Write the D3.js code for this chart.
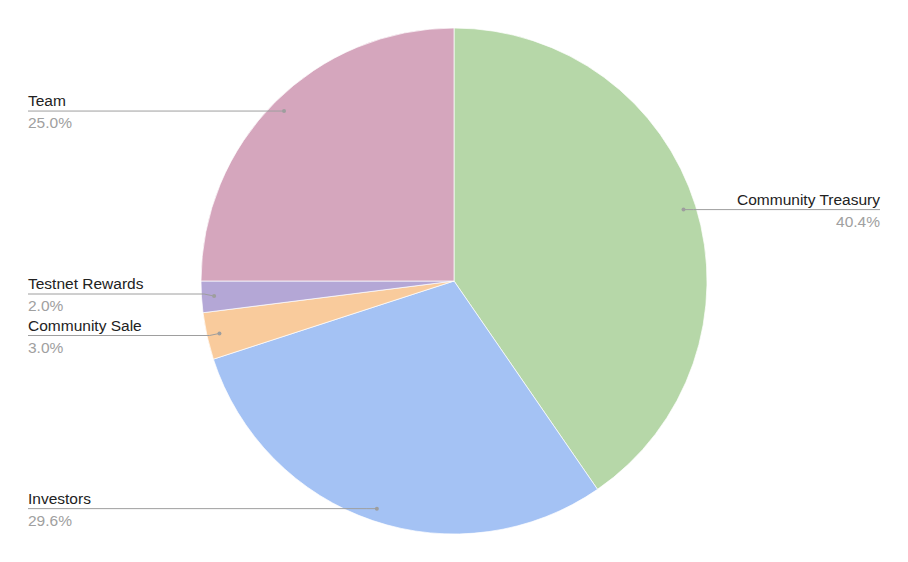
<!DOCTYPE html>
<html><head><meta charset="utf-8">
<script src="https://cdn.jsdelivr.net/npm/d3@7"></script>
<style>html,body{margin:0;padding:0;background:#fff;}svg{display:block;font-family:Arial,"Liberation Sans",sans-serif;}</style>
</head><body>
<svg id="chart" width="908" height="562"></svg>
<script>
const categories = ["Community Treasury","Investors","Community Sale","Testnet Rewards","Team"];
const values = [40.4, 29.6, 3.0, 2.0, 25.0];
const colors = ["#b6d7a8","#a4c2f4","#f9cb9c","#b4a7d6","#d5a6bd"];

const W = 908, H = 562, cx = 454, cy = 281, R = 253;
const svg = d3.select("#chart");
const data = categories.map((c,i)=>({name:c,value:values[i],color:colors[i]}));
const pie = d3.pie().value(d=>d.value).sort(null);
const arcs = pie(data);
const arc = d3.arc().innerRadius(0).outerRadius(R);
const g = svg.append("g").attr("transform",`translate(${cx},${cy})`);
g.selectAll("path").data(arcs).join("path")
  .attr("d",arc).attr("fill",d=>d.data.color)
  .attr("stroke","#fff").attr("stroke-width",0.7);

const dotArc = d3.arc().innerRadius(R*0.95).outerRadius(R*0.95);
const labels = arcs.map(a=>{
  const p = dotArc.centroid(a);
  const mid = (a.startAngle+a.endAngle)/2;
  return {a, px:cx+p[0], py:cy+p[1], side: mid < Math.PI ? "right":"left", y: cy+p[1]};
});
const minGap = 41.5;
["left","right"].forEach(side=>{
  const ls = labels.filter(l=>l.side===side).sort((a,b)=>a.y-b.y);
  for(let iter=0;iter<20;iter++){
    let moved=false;
    for(let i=1;i<ls.length;i++){
      const gap = ls[i].y-ls[i-1].y;
      if(gap<minGap){const d=(minGap-gap)/2; ls[i].y+=d; ls[i-1].y-=d; moved=true;}
    }
    if(!moved) break;
  }
});
const fmt = d3.format(".1f");
labels.forEach(l=>{
  const left = l.side==="left";
  const xEdge = left ? 28 : 880;
  const bendX = left ? l.px - 10 : l.px + 10;
  svg.append("path")
    .attr("d", `M${xEdge},${l.y}L${bendX},${l.y}L${l.px},${l.py}`)
    .attr("fill","none").attr("stroke","#9e9e9e").attr("stroke-width",1);
  svg.append("circle").attr("cx",l.px).attr("cy",l.py).attr("r",2).attr("fill","#9e9e9e");
  svg.append("text").attr("x",xEdge).attr("y",l.y-5)
    .attr("text-anchor",left?"start":"end").attr("font-size",15.5).attr("fill","#222")
    .text(l.a.data.name);
  svg.append("text").attr("x",xEdge).attr("y",l.y+17)
    .attr("text-anchor",left?"start":"end").attr("font-size",15.5).attr("fill","#a0a0a0")
    .text(fmt(l.a.data.value)+"%");
});
</script>
</body></html>
